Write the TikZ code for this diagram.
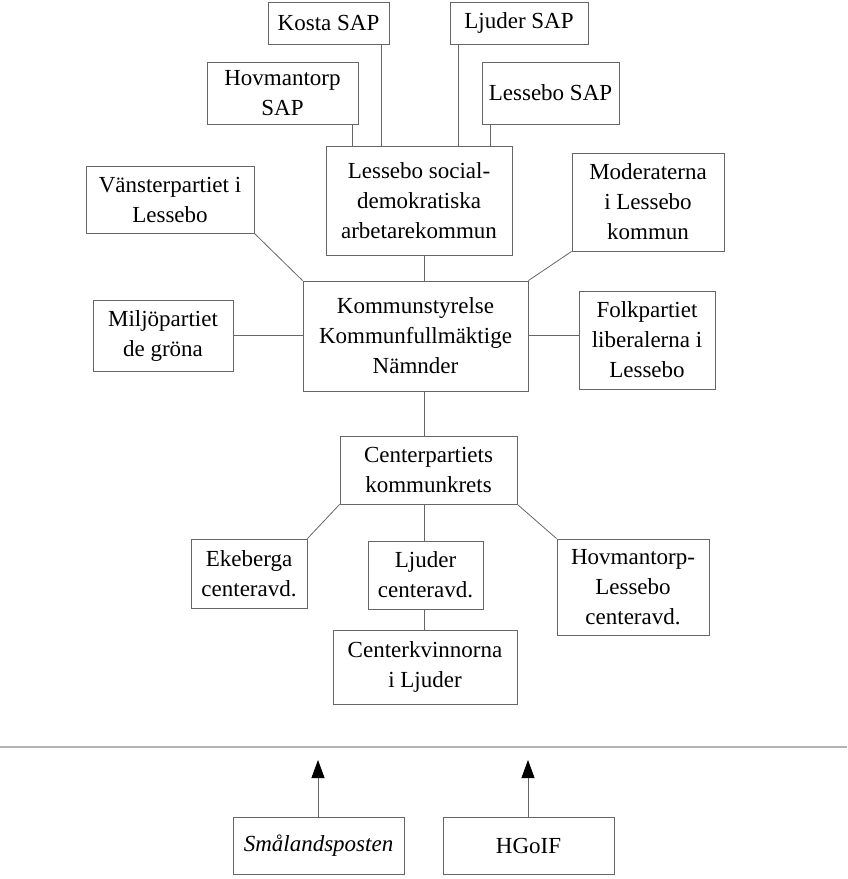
\documentclass[tikz,border=0pt]{standalone}
\usepackage{fontspec}
\setmainfont{Liberation Serif}
\usetikzlibrary{arrows.meta}
\tikzset{
  box/.style={draw=black!60, line width=0.9pt, fill=white, inner sep=0pt, align=center,
    font=\fontsize{23}{30}\selectfont},
  conn/.style={draw=black!60, line width=0.8pt},
  sep/.style={draw=black!30, line width=2pt},
  up/.style={conn, -{Triangle[length=18pt,width=13pt,color=black,fill=black]}}
}
\begin{document}
\begin{tikzpicture}[x=1pt,y=-1pt]
\useasboundingbox (0,0) rectangle (847,879);
\coordinate (axis) at (424,0);
% nodes
\node[box, minimum width=121pt, minimum height=42pt] (kosta) at (328.5,23) {Kosta SAP};
\node[box, minimum width=138pt, minimum height=42pt] (ljsap) at (519,23) {Ljuder SAP};
\node[box, minimum width=151pt, minimum height=62pt] (hovsap) at (282.5,93) {Hovmantorp\\SAP};
\node[box, minimum width=137pt, minimum height=62pt] (lessap) at (550.5,93) {Lessebo SAP};
\node[box, minimum width=186pt, minimum height=109pt] (lsd) at (419,200.5) {Lessebo social-\\demokratiska\\arbetarekommun};
\node[box, minimum width=168pt, minimum height=67pt] (vans) at (170,199.5) {Vänsterpartiet i\\Lessebo};
\node[box, minimum width=152pt, minimum height=98pt] (mod) at (648,202) {Moderaterna\\i Lessebo\\kommun};
\node[box, minimum width=225pt, minimum height=110pt] (kom) at (415.5,336) {Kommunstyrelse\\Kommunfullmäktige\\Nämnder};
\node[box, minimum width=140pt, minimum height=71pt] (milj) at (163,335.5) {Miljöpartiet\\de gröna};
\node[box, minimum width=136pt, minimum height=98pt] (folk) at (647,340) {Folkpartiet\\liberalerna i\\Lessebo};
\node[box, minimum width=177pt, minimum height=68pt] (cen) at (428.5,470) {Centerpartiets\\kommunkrets};
\node[box, minimum width=116pt, minimum height=69pt] (eke) at (249,573.5) {Ekeberga\\centeravd.};
\node[box, minimum width=115pt, minimum height=68pt] (ljca) at (425.5,575) {Ljuder\\centeravd.};
\node[box, minimum width=152pt, minimum height=96pt] (hovl) at (633,587) {Hovmantorp-\\Lessebo\\centeravd.};
\node[box, minimum width=184pt, minimum height=74pt] (ckv) at (425,667) {Centerkvinnorna\\i Ljuder};
\node[box, minimum width=171pt, minimum height=57pt] (smal) at (318.5,845.5) {\textit{Smålandsposten}};
\node[box, minimum width=171pt, minimum height=57pt] (hgoif) at (528.5,845.5) {HGoIF};
% connectors top
\draw[conn] ([xshift=-6pt]hovsap.south east) -- ([xshift=-6pt]hovsap.south east |- lsd.north);
\draw[conn] ([xshift=-8pt]kosta.south east) -- ([xshift=-8pt]kosta.south east |- lsd.north);
\draw[conn] ([xshift=9pt]ljsap.south west) -- ([xshift=9pt]ljsap.south west |- lsd.north);
\draw[conn] ([xshift=9pt]lessap.south west) -- ([xshift=9pt]lessap.south west |- lsd.north);
\draw[conn] (lsd.south -| axis) -- (kom.north -| axis);
\draw[conn] (vans.south east) -- (kom.north west);
\draw[conn] (mod.south west) -- (kom.north east);
\draw[conn] (milj.east) -- (milj.east -| kom.west);
\draw[conn] (kom.east |- milj.east) -- (folk.west |- milj.east);
\draw[conn] (kom.south -| axis) -- (cen.north -| axis);
\draw[conn] (cen.south west) -- (eke.north east);
\draw[conn] (cen.south -| axis) -- (ljca.north -| axis);
\draw[conn] (cen.south east) -- (hovl.north west);
\draw[conn] (ljca.south -| axis) -- (ckv.north -| axis);
% separator and arrows
\coordinate (sepL) at (0,747);
\coordinate (sepR) at (847,747);
\draw[sep] (sepL) -- (sepR);
\coordinate (tipy) at (0,760);
\draw[up] ([xshift=-0.5pt]smal.north) -- ([xshift=-0.5pt]smal.north |- tipy);
\draw[up] ([xshift=-0.5pt]hgoif.north) -- ([xshift=-0.5pt]hgoif.north |- tipy);
\end{tikzpicture}
\end{document}
